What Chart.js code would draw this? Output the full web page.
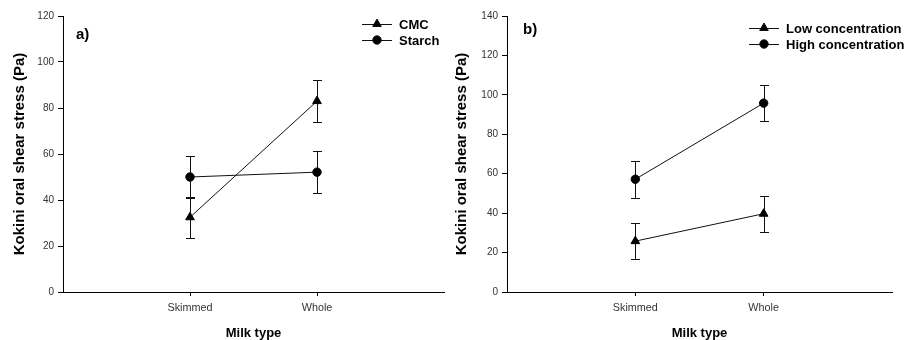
<!DOCTYPE html>
<html>
<head>
<meta charset="utf-8">
<script src="https://cdn.jsdelivr.net/npm/chart.js@4"></script>
<style>
  html, body { margin: 0; padding: 0; background: #fff; }
  .wrap { display: flex; width: 907px; height: 340px; }
  .panel { position: relative; height: 340px; }
  #panel-a { width: 450px; }
  #panel-b { width: 457px; }
</style>
</head>
<body>
<div class="wrap">
  <div class="panel" id="panel-a"><canvas id="chart-a"></canvas></div>
  <div class="panel" id="panel-b"><canvas id="chart-b"></canvas></div>
</div>
<script>
const milkTypes = ['Skimmed', 'Whole'];

// a) thickener type
const cmcStress = [32.5, 83];
const cmcError = [9, 9.2];
const starchStress = [50, 52.1];
const starchError = [9.2, 9.2];

// b) thickener concentration
const lowStress = [25.8, 39.7];
const lowError = [9.2, 9.2];
const highStress = [57.2, 95.8];
const highError = [9.3, 9.2];

const FONT = '"Liberation Sans", Arial, Helvetica, sans-serif';

const toPoints = (values) => values.map((v, i) => ({ x: i + 1, y: v }));

// vertical error bars with caps, drawn under the markers
const errorBars = {
  id: 'errorBars',
  beforeDatasetsDraw(chart) {
    const { ctx, scales: { x, y } } = chart;
    ctx.save();
    ctx.strokeStyle = '#111';
    ctx.lineWidth = 1;
    chart.data.datasets.forEach((ds) => {
      ds.data.forEach((pt, i) => {
        const err = ds.errors[i];
        const px = Math.round(x.getPixelForValue(pt.x)) + 0.5;
        const top = Math.round(y.getPixelForValue(pt.y + err)) + 0.5;
        const bot = Math.round(y.getPixelForValue(pt.y - err)) + 0.5;
        ctx.beginPath();
        ctx.moveTo(px, top);
        ctx.lineTo(px, bot);
        ctx.moveTo(px - 4.5, top);
        ctx.lineTo(px + 4.5, top);
        ctx.moveTo(px - 4.5, bot);
        ctx.lineTo(px + 4.5, bot);
        ctx.stroke();
      });
    });
    ctx.restore();
  }
};

// legend with a short line through the marker, plus the panel letter
const markerLegend = {
  id: 'markerLegend',
  afterDraw(chart, args, opts) {
    const { ctx } = chart;
    ctx.save();
    ctx.font = 'bold 15px ' + FONT;
    ctx.fillStyle = '#000';
    ctx.textBaseline = 'middle';
    ctx.fillText(opts.panel, opts.panelX, opts.panelY);

    ctx.font = 'bold 13px ' + FONT;
    chart.data.datasets.forEach((ds, i) => {
      const y = opts.y + i * opts.rowGap;
      ctx.strokeStyle = '#111';
      ctx.lineWidth = 1;
      ctx.beginPath();
      ctx.moveTo(opts.x, y + 0.5);
      ctx.lineTo(opts.x + 30, y + 0.5);
      ctx.stroke();
      ctx.fillStyle = '#000';
      Chart.helpers.drawPoint(ctx, {
        pointStyle: ds.pointStyle,
        radius: ds.pointRadius,
        borderWidth: 1
      }, opts.x + 15, y);
      ctx.fillText(ds.label, opts.x + 37, y + 1);
    });
    ctx.restore();
  }
};

function makeChart(canvasId, cfg) {
  const series = cfg.series.map((s) => ({
    label: s.label,
    data: toPoints(s.values),
    errors: s.errors,
    borderColor: '#111',
    borderWidth: 1,
    backgroundColor: '#000',
    pointBackgroundColor: '#000',
    pointBorderColor: '#000',
    pointStyle: s.marker,
    pointRadius: s.marker === 'triangle' ? 5 : 4.2,
    tension: 0
  }));

  return new Chart(document.getElementById(canvasId), {
    type: 'line',
    data: { datasets: series },
    plugins: [errorBars, markerLegend],
    options: {
      responsive: true,
      maintainAspectRatio: false,
      animation: false,
      layout: { padding: { top: 16, right: cfg.rightPad, bottom: 0, left: 0 } },
      plugins: {
        legend: { display: false },
        tooltip: { enabled: false },
        markerLegend: cfg.legend
      },
      scales: {
        x: {
          type: 'linear',
          min: 0,
          max: 3,
          afterBuildTicks: (scale) => {
            scale.ticks = milkTypes.map((_, i) => ({ value: i + 1 }));
          },
          afterFit: (scale) => { scale.height = 48; },
          border: { color: '#000', width: 1 },
          grid: { drawOnChartArea: false, drawTicks: true, tickLength: 4, color: '#000' },
          ticks: {
            autoSkip: false,
            maxRotation: 0,
            padding: 6,
            color: '#333',
            font: { family: FONT, size: 10.8 },
            callback: (v) => milkTypes[v - 1]
          },
          title: {
            display: true,
            text: 'Milk type',
            color: '#000',
            font: { family: FONT, size: 13, weight: 'bold', lineHeight: 1 },
            padding: { top: 0, bottom: 0 }
          }
        },
        y: {
          min: 0,
          max: cfg.yMax,
          afterFit: (scale) => { scale.width = cfg.axisLeft; },
          border: { color: '#000', width: 1 },
          grid: { drawOnChartArea: false, drawTicks: true, tickLength: 5, color: '#000' },
          ticks: {
            stepSize: 20,
            padding: 4,
            color: '#333',
            font: { family: FONT, size: 10 }
          },
          title: {
            display: true,
            text: 'Kokini oral shear stress (Pa)',
            color: '#000',
            font: { family: FONT, size: 15, weight: 'bold' },
            padding: { top: cfg.titlePad, bottom: 0 }
          }
        }
      }
    }
  });
}

makeChart('chart-a', {
  yMax: 120,
  axisLeft: 63,
  rightPad: 3,
  titlePad: 11,
  series: [
    { label: 'CMC', values: cmcStress, errors: cmcError, marker: 'triangle' },
    { label: 'Starch', values: starchStress, errors: starchError, marker: 'circle' }
  ],
  legend: { panel: 'a)', panelX: 76, panelY: 35, x: 362, y: 24, rowGap: 16 }
});

makeChart('chart-b', {
  yMax: 140,
  axisLeft: 57,
  rightPad: 15,
  titlePad: 3,
  series: [
    { label: 'Low concentration', values: lowStress, errors: lowError, marker: 'triangle' },
    { label: 'High concentration', values: highStress, errors: highError, marker: 'circle' }
  ],
  legend: { panel: 'b)', panelX: 73, panelY: 30, x: 299, y: 28, rowGap: 16 }
});
</script>
</body>
</html>
